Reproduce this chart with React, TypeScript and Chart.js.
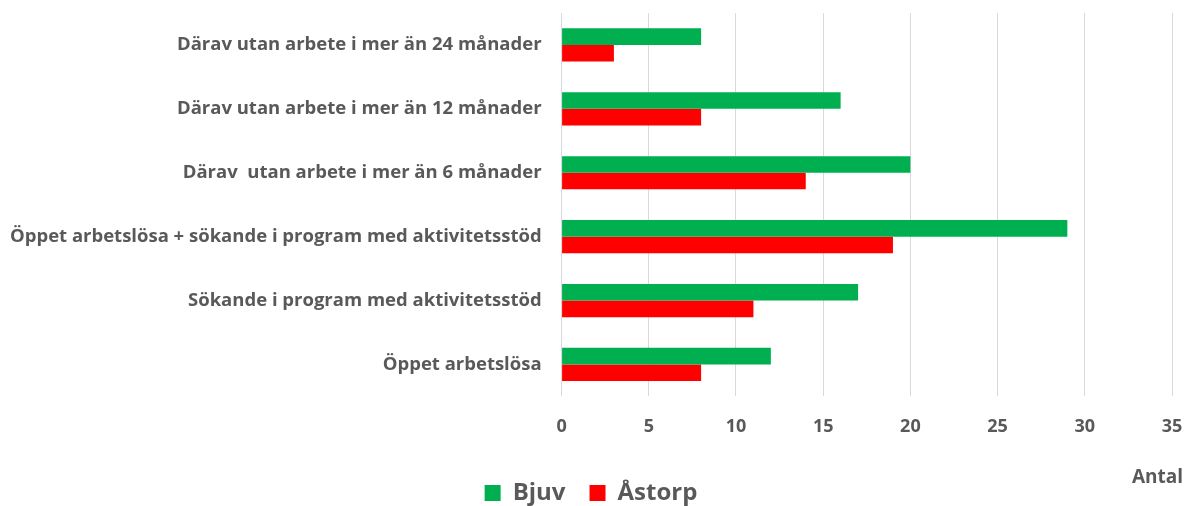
import React, { useEffect, useRef } from "react";
import { Chart, registerables } from "chart.js";

Chart.register(...registerables);

const categories = [
  "Därav utan arbete i mer än 24 månader",
  "Därav utan arbete i mer än 12 månader",
  "Därav  utan arbete i mer än 6 månader",
  "Öppet arbetslösa + sökande i program med aktivitetsstöd",
  "Sökande i program med aktivitetsstöd",
  "Öppet arbetslösa",
];
const bjuvValues = [8, 16, 20, 29, 17, 12];
const astorpValues = [3, 8, 14, 19, 11, 8];
const seriesNames = ["Bjuv", "Åstorp"];
const xAxisTitle = "Antal";

const FONT = "'Open Sans', sans-serif";
const GREY = "#595959";

export default function App() {
  const ref = useRef<HTMLCanvasElement | null>(null);
  useEffect(() => {
    if (!ref.current) return;
    const antalPlugin = {
      id: "antal",
      afterDraw(chart: any) {
        const x = chart.scales.x;
        const ctx = chart.ctx;
        ctx.save();
        ctx.font = `bold 19px ${FONT}`;
        ctx.fillStyle = GREY;
        ctx.textAlign = "right";
        ctx.textBaseline = "middle";
        ctx.fillText(xAxisTitle, x.right + 11, 478);
        ctx.restore();
      },
    };
    const chart = new Chart(ref.current, {
      type: "bar",
      data: {
        labels: categories,
        datasets: [
          { label: seriesNames[0], data: bjuvValues, backgroundColor: "#00b050", borderWidth: 0 },
          { label: seriesNames[1], data: astorpValues, backgroundColor: "#ff0000", borderWidth: 0 },
        ],
      },
      options: {
        indexAxis: "y",
        animation: false,
        responsive: false,
        maintainAspectRatio: false,
        layout: { padding: { top: 13, right: 16, left: 10, bottom: -9 } },
        datasets: { bar: { categoryPercentage: 0.52, barPercentage: 1 } },
        scales: {
          x: {
            min: 0,
            max: 35,
            afterFit: (scale: any) => {
              scale.height += 19;
            },
            ticks: { stepSize: 5, color: GREY, font: { family: FONT, size: 18, weight: "bold" }, padding: 0 },
            grid: { color: "#d9d9d9", drawTicks: true, tickLength: 20, tickColor: "rgba(0,0,0,0)", lineWidth: 1 },
            border: { display: false },
          },
          y: {
            ticks: { color: GREY, font: { family: FONT, size: 18.5, weight: "bold" }, padding: 0 },
            grid: { display: true, drawOnChartArea: false, drawTicks: true, tickLength: 20, tickColor: "rgba(0,0,0,0)" },
            border: { display: false },
          },
        },
        plugins: {
          legend: {
            position: "bottom",
            labels: {
              color: GREY,
              font: { family: FONT, size: 24, weight: "bold" },
              boxWidth: 16,
              boxHeight: 16,
              padding: 24,
            },
          },
          tooltip: { enabled: false },
          title: { display: false },
        },
      },
      plugins: [antalPlugin],
    });
    return () => chart.destroy();
  }, []);
  return (
    <div style={{ position: "absolute", left: 0, top: 0, width: 1188, height: 506, background: "#fff" }}>
      <canvas ref={ref} width={1188} height={506} style={{ display: "block" }} />
    </div>
  );
}
